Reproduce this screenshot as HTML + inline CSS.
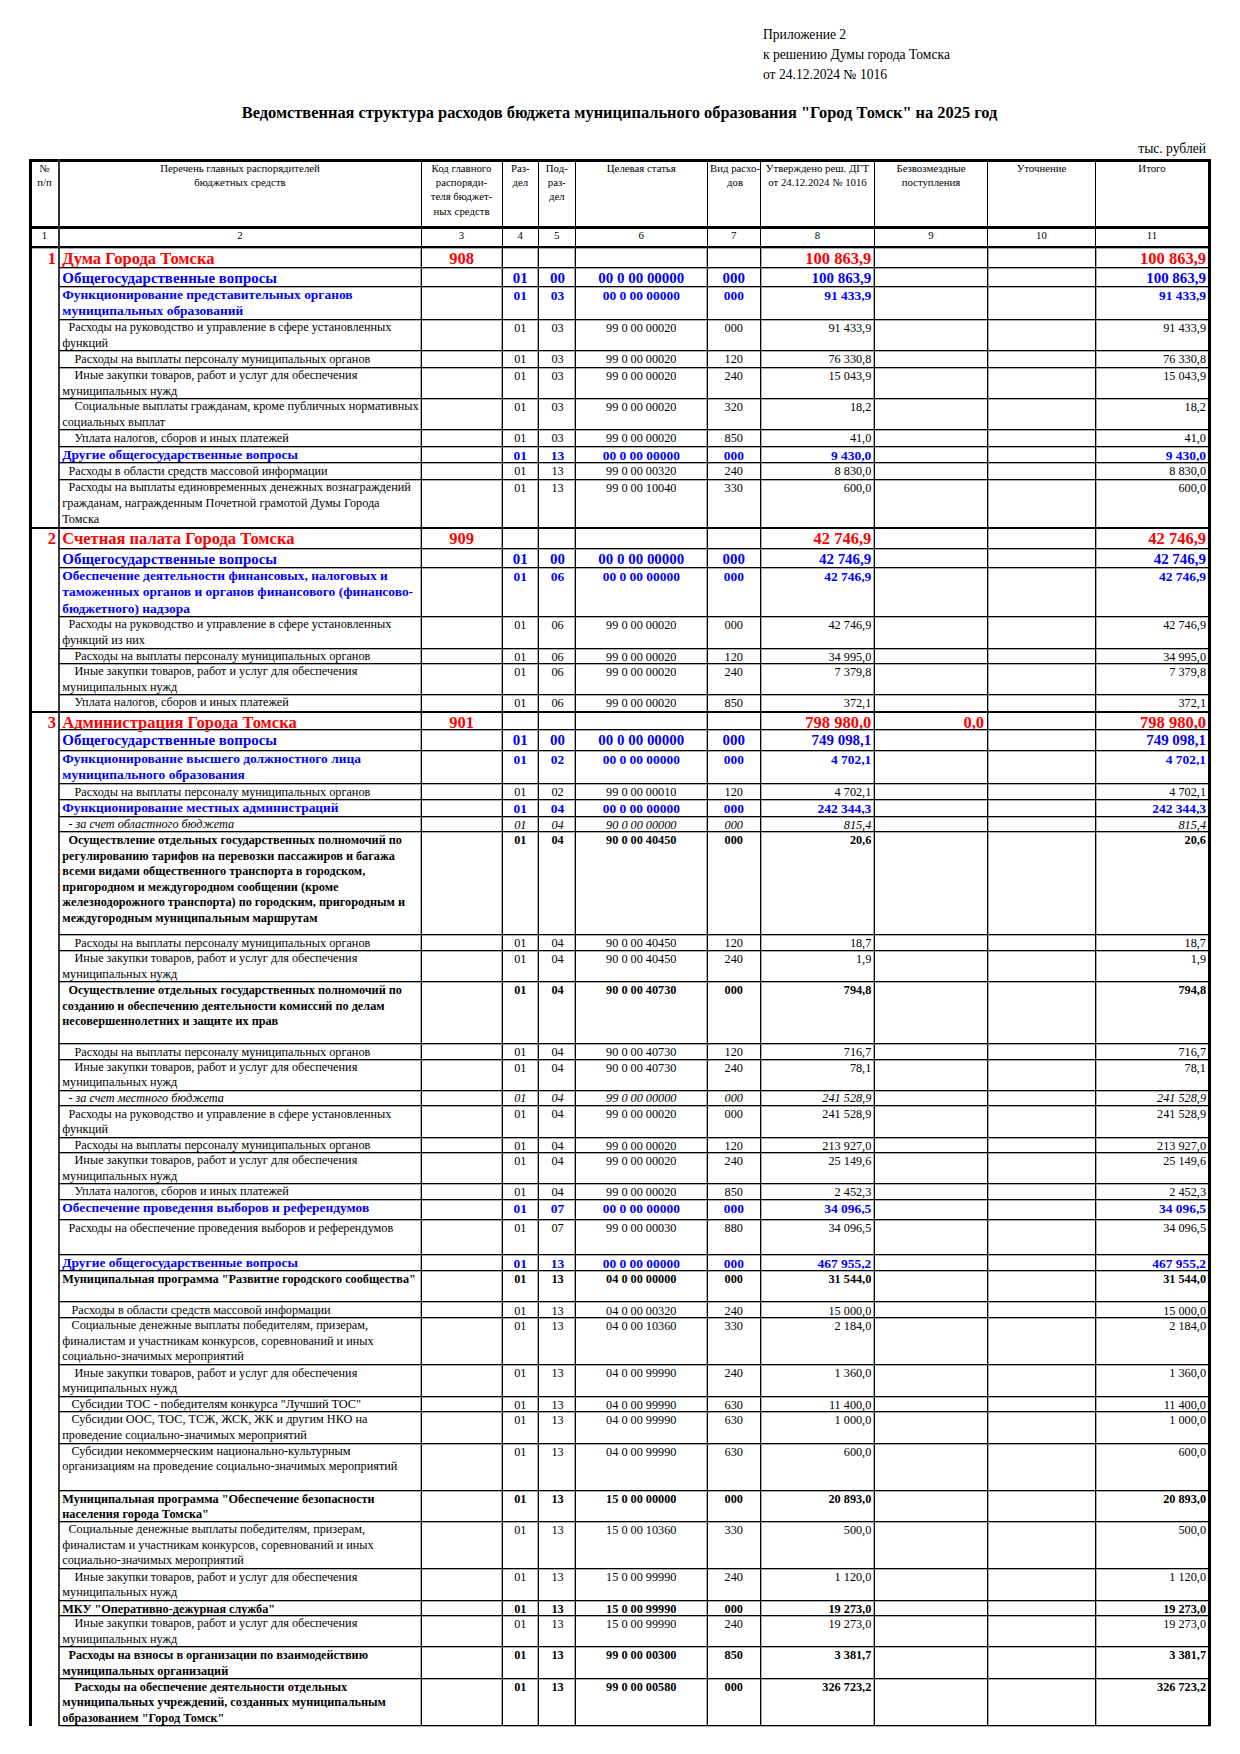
<!DOCTYPE html>
<html lang="ru"><head><meta charset="utf-8"><title>Ведомственная структура расходов бюджета</title>
<style>
html,body{margin:0;padding:0;background:#fff;}
body{width:1240px;height:1754px;position:relative;overflow:hidden;font-family:"Liberation Serif","Times New Roman",serif;color:#000;}
.t{position:absolute;white-space:pre;}
.l{position:absolute;}
.r{font-weight:normal;}
.bd{font-weight:bold;}
.dept{color:#ff0000;font-weight:bold;}
.l1{color:#0000ff;font-weight:bold;}
.l2{color:#0000ff;font-weight:bold;}
.n{font-weight:normal;}
.b{font-weight:bold;}
.i{font-style:italic;}
</style></head><body>
<div class="t r" style="left:763.00px;top:26.11px;font-size:13.6px;line-height:17.0px">Приложение 2</div>
<div class="t r" style="left:763.00px;top:45.71px;font-size:13.6px;line-height:17.0px">к решению Думы города Томска</div>
<div class="t r" style="left:763.00px;top:65.51px;font-size:13.6px;line-height:17.0px">от 24.12.2024 № 1016</div>
<div class="t bd" style="left:119.50px;width:1000px;text-align:center;top:103.02px;font-size:16.4px;line-height:20.5px">Ведомственная структура расходов бюджета муниципального образования "Город Томск" на 2025 год</div>
<div class="t r" style="left:1006.00px;width:200px;text-align:right;top:139.91px;font-size:13.6px;line-height:17.0px">тыс. рублей</div>
<div class="t r" style="left:-55.50px;width:200px;text-align:center;top:161.91px;font-size:10.8px;line-height:13.5px">№</div>
<div class="t r" style="left:-55.50px;width:200px;text-align:center;top:175.91px;font-size:10.8px;line-height:13.5px">п/п</div>
<div class="t r" style="left:140.00px;width:200px;text-align:center;top:161.91px;font-size:10.8px;line-height:13.5px">Перечень главных распорядителей</div>
<div class="t r" style="left:140.00px;width:200px;text-align:center;top:175.91px;font-size:10.8px;line-height:13.5px">бюджетных средств</div>
<div class="t r" style="left:361.50px;width:200px;text-align:center;top:161.91px;font-size:10.8px;line-height:13.5px">Код главного</div>
<div class="t r" style="left:361.50px;width:200px;text-align:center;top:175.91px;font-size:10.8px;line-height:13.5px">распоряди-</div>
<div class="t r" style="left:361.50px;width:200px;text-align:center;top:190.00px;font-size:10.8px;line-height:13.5px">теля бюджет-</div>
<div class="t r" style="left:361.50px;width:200px;text-align:center;top:204.80px;font-size:10.8px;line-height:13.5px">ных средств</div>
<div class="t r" style="left:420.30px;width:200px;text-align:center;top:161.91px;font-size:10.8px;line-height:13.5px">Раз-</div>
<div class="t r" style="left:420.30px;width:200px;text-align:center;top:175.91px;font-size:10.8px;line-height:13.5px">дел</div>
<div class="t r" style="left:456.80px;width:200px;text-align:center;top:161.91px;font-size:10.8px;line-height:13.5px">Под-</div>
<div class="t r" style="left:456.80px;width:200px;text-align:center;top:175.91px;font-size:10.8px;line-height:13.5px">раз-</div>
<div class="t r" style="left:456.80px;width:200px;text-align:center;top:190.00px;font-size:10.8px;line-height:13.5px">дел</div>
<div class="t r" style="left:541.30px;width:200px;text-align:center;top:161.91px;font-size:10.8px;line-height:13.5px">Целевая статья</div>
<div class="t r" style="left:635.00px;width:200px;text-align:center;top:161.91px;font-size:10.8px;line-height:13.5px">Вид расхо-</div>
<div class="t r" style="left:635.00px;width:200px;text-align:center;top:175.91px;font-size:10.8px;line-height:13.5px">дов</div>
<div class="t r" style="left:717.50px;width:200px;text-align:center;top:161.91px;font-size:10.8px;line-height:13.5px">Утверждено реш. ДГТ</div>
<div class="t r" style="left:717.50px;width:200px;text-align:center;top:175.91px;font-size:10.8px;line-height:13.5px">от 24.12.2024 № 1016</div>
<div class="t r" style="left:831.00px;width:200px;text-align:center;top:161.91px;font-size:10.8px;line-height:13.5px">Безвозмездные</div>
<div class="t r" style="left:831.00px;width:200px;text-align:center;top:175.91px;font-size:10.8px;line-height:13.5px">поступления</div>
<div class="t r" style="left:941.50px;width:200px;text-align:center;top:161.91px;font-size:10.8px;line-height:13.5px">Уточнение</div>
<div class="t r" style="left:1052.00px;width:200px;text-align:center;top:161.91px;font-size:10.8px;line-height:13.5px">Итого</div>
<div class="t r" style="left:-5.50px;width:100px;text-align:center;top:229.20px;font-size:10.8px;line-height:13.5px">1</div>
<div class="t r" style="left:190.00px;width:100px;text-align:center;top:229.20px;font-size:10.8px;line-height:13.5px">2</div>
<div class="t r" style="left:411.50px;width:100px;text-align:center;top:229.20px;font-size:10.8px;line-height:13.5px">3</div>
<div class="t r" style="left:470.30px;width:100px;text-align:center;top:229.20px;font-size:10.8px;line-height:13.5px">4</div>
<div class="t r" style="left:506.80px;width:100px;text-align:center;top:229.20px;font-size:10.8px;line-height:13.5px">5</div>
<div class="t r" style="left:591.30px;width:100px;text-align:center;top:229.20px;font-size:10.8px;line-height:13.5px">6</div>
<div class="t r" style="left:683.80px;width:100px;text-align:center;top:229.20px;font-size:10.8px;line-height:13.5px">7</div>
<div class="t r" style="left:767.50px;width:100px;text-align:center;top:229.20px;font-size:10.8px;line-height:13.5px">8</div>
<div class="t r" style="left:881.00px;width:100px;text-align:center;top:229.20px;font-size:10.8px;line-height:13.5px">9</div>
<div class="t r" style="left:991.50px;width:100px;text-align:center;top:229.20px;font-size:10.8px;line-height:13.5px">10</div>
<div class="t r" style="left:1102.00px;width:100px;text-align:center;top:229.20px;font-size:10.8px;line-height:13.5px">11</div>
<div class="l" style="left:29px;top:159px;width:1182px;height:3px;background:#000"></div>
<div class="l" style="left:29px;top:226px;width:1182px;height:3px;background:#000"></div>
<div class="l" style="left:29px;top:246px;width:1182px;height:2px;background:#000"></div>
<div class="l" style="left:29px;top:248px;width:1182px;height:1px;background:#aaa"></div>
<div class="l" style="left:58px;top:159px;width:2px;height:89px;background:#333"></div>
<div class="l" style="left:421px;top:159px;width:1px;height:89px;background:#000"></div>
<div class="l" style="left:502px;top:159px;width:1px;height:89px;background:#000"></div>
<div class="l" style="left:538px;top:159px;width:1px;height:89px;background:#000"></div>
<div class="l" style="left:575px;top:159px;width:1px;height:89px;background:#000"></div>
<div class="l" style="left:707px;top:159px;width:1px;height:89px;background:#000"></div>
<div class="l" style="left:760px;top:159px;width:1px;height:89px;background:#000"></div>
<div class="l" style="left:874px;top:159px;width:1px;height:89px;background:#000"></div>
<div class="l" style="left:987px;top:159px;width:1px;height:89px;background:#000"></div>
<div class="l" style="left:1095px;top:159px;width:1px;height:89px;background:#000"></div>
<div class="t dept" style="left:62.30px;top:248.62px;font-size:16.5px;line-height:20.62px">Дума Города Томска</div>
<div class="t dept" style="left:26.00px;width:30px;text-align:right;top:248.62px;font-size:16.5px;line-height:20.62px">1</div>
<div class="t dept" style="left:421.50px;width:80px;text-align:center;top:248.62px;font-size:16.5px;line-height:20.62px">908</div>
<div class="t dept" style="left:761.30px;width:110px;text-align:right;top:248.62px;font-size:16.5px;line-height:20.62px">100 863,9</div>
<div class="t dept" style="left:1096.00px;width:110px;text-align:right;top:248.62px;font-size:16.5px;line-height:20.62px">100 863,9</div>
<div class="t l1" style="left:62.30px;top:268.50px;font-size:14.96px;line-height:18.7px">Общегосударственные вопросы</div>
<div class="t l1" style="left:500.30px;width:40px;text-align:center;top:268.50px;font-size:14.96px;line-height:18.7px">01</div>
<div class="t l1" style="left:537.50px;width:40px;text-align:center;top:268.50px;font-size:14.96px;line-height:18.7px">00</div>
<div class="t l1" style="left:576.30px;width:130px;text-align:center;top:268.50px;font-size:14.96px;line-height:18.7px">00 0 00 00000</div>
<div class="t l1" style="left:708.80px;width:50px;text-align:center;top:268.50px;font-size:14.96px;line-height:18.7px">000</div>
<div class="t l1" style="left:761.30px;width:110px;text-align:right;top:268.50px;font-size:14.96px;line-height:18.7px">100 863,9</div>
<div class="t l1" style="left:1096.00px;width:110px;text-align:right;top:268.50px;font-size:14.96px;line-height:18.7px">100 863,9</div>
<div class="t l2" style="left:62.30px;top:286.56px;font-size:13.45px;line-height:16.81px">Функционирование представительных органов</div>
<div class="t l2" style="left:62.30px;top:302.96px;font-size:13.45px;line-height:16.81px">муниципальных образований</div>
<div class="t l2" style="left:500.30px;width:40px;text-align:center;top:287.76px;font-size:13.45px;line-height:16.81px">01</div>
<div class="t l2" style="left:537.50px;width:40px;text-align:center;top:287.76px;font-size:13.45px;line-height:16.81px">03</div>
<div class="t l2" style="left:576.30px;width:130px;text-align:center;top:287.76px;font-size:13.45px;line-height:16.81px">00 0 00 00000</div>
<div class="t l2" style="left:708.80px;width:50px;text-align:center;top:287.76px;font-size:13.45px;line-height:16.81px">000</div>
<div class="t l2" style="left:761.30px;width:110px;text-align:right;top:287.76px;font-size:13.45px;line-height:16.81px">91 433,9</div>
<div class="t l2" style="left:1096.00px;width:110px;text-align:right;top:287.76px;font-size:13.45px;line-height:16.81px">91 433,9</div>
<div class="t n" style="left:62.30px;top:320.42px;font-size:12.24px;line-height:15.3px">  Расходы на руководство и управление в сфере установленных</div>
<div class="t n" style="left:62.30px;top:336.02px;font-size:12.24px;line-height:15.3px">функций</div>
<div class="t n" style="left:500.30px;width:40px;text-align:center;top:321.22px;font-size:12.24px;line-height:15.3px">01</div>
<div class="t n" style="left:537.50px;width:40px;text-align:center;top:321.22px;font-size:12.24px;line-height:15.3px">03</div>
<div class="t n" style="left:576.30px;width:130px;text-align:center;top:321.22px;font-size:12.24px;line-height:15.3px">99 0 00 00020</div>
<div class="t n" style="left:708.80px;width:50px;text-align:center;top:321.22px;font-size:12.24px;line-height:15.3px">000</div>
<div class="t n" style="left:761.30px;width:110px;text-align:right;top:321.22px;font-size:12.24px;line-height:15.3px">91 433,9</div>
<div class="t n" style="left:1096.00px;width:110px;text-align:right;top:321.22px;font-size:12.24px;line-height:15.3px">91 433,9</div>
<div class="t n" style="left:62.30px;top:351.52px;font-size:12.24px;line-height:15.3px">    Расходы на выплаты персоналу муниципальных органов</div>
<div class="t n" style="left:500.30px;width:40px;text-align:center;top:352.32px;font-size:12.24px;line-height:15.3px">01</div>
<div class="t n" style="left:537.50px;width:40px;text-align:center;top:352.32px;font-size:12.24px;line-height:15.3px">03</div>
<div class="t n" style="left:576.30px;width:130px;text-align:center;top:352.32px;font-size:12.24px;line-height:15.3px">99 0 00 00020</div>
<div class="t n" style="left:708.80px;width:50px;text-align:center;top:352.32px;font-size:12.24px;line-height:15.3px">120</div>
<div class="t n" style="left:761.30px;width:110px;text-align:right;top:352.32px;font-size:12.24px;line-height:15.3px">76 330,8</div>
<div class="t n" style="left:1096.00px;width:110px;text-align:right;top:352.32px;font-size:12.24px;line-height:15.3px">76 330,8</div>
<div class="t n" style="left:62.30px;top:368.32px;font-size:12.24px;line-height:15.3px">    Иные закупки товаров, работ и услуг для обеспечения</div>
<div class="t n" style="left:62.30px;top:383.92px;font-size:12.24px;line-height:15.3px">муниципальных нужд</div>
<div class="t n" style="left:500.30px;width:40px;text-align:center;top:369.12px;font-size:12.24px;line-height:15.3px">01</div>
<div class="t n" style="left:537.50px;width:40px;text-align:center;top:369.12px;font-size:12.24px;line-height:15.3px">03</div>
<div class="t n" style="left:576.30px;width:130px;text-align:center;top:369.12px;font-size:12.24px;line-height:15.3px">99 0 00 00020</div>
<div class="t n" style="left:708.80px;width:50px;text-align:center;top:369.12px;font-size:12.24px;line-height:15.3px">240</div>
<div class="t n" style="left:761.30px;width:110px;text-align:right;top:369.12px;font-size:12.24px;line-height:15.3px">15 043,9</div>
<div class="t n" style="left:1096.00px;width:110px;text-align:right;top:369.12px;font-size:12.24px;line-height:15.3px">15 043,9</div>
<div class="t n" style="left:62.30px;top:399.42px;font-size:12.24px;line-height:15.3px">    Социальные выплаты гражданам, кроме публичных нормативных</div>
<div class="t n" style="left:62.30px;top:415.02px;font-size:12.24px;line-height:15.3px">социальных выплат</div>
<div class="t n" style="left:500.30px;width:40px;text-align:center;top:400.22px;font-size:12.24px;line-height:15.3px">01</div>
<div class="t n" style="left:537.50px;width:40px;text-align:center;top:400.22px;font-size:12.24px;line-height:15.3px">03</div>
<div class="t n" style="left:576.30px;width:130px;text-align:center;top:400.22px;font-size:12.24px;line-height:15.3px">99 0 00 00020</div>
<div class="t n" style="left:708.80px;width:50px;text-align:center;top:400.22px;font-size:12.24px;line-height:15.3px">320</div>
<div class="t n" style="left:761.30px;width:110px;text-align:right;top:400.22px;font-size:12.24px;line-height:15.3px">18,2</div>
<div class="t n" style="left:1096.00px;width:110px;text-align:right;top:400.22px;font-size:12.24px;line-height:15.3px">18,2</div>
<div class="t n" style="left:62.30px;top:430.52px;font-size:12.24px;line-height:15.3px">    Уплата налогов, сборов и иных платежей</div>
<div class="t n" style="left:500.30px;width:40px;text-align:center;top:431.32px;font-size:12.24px;line-height:15.3px">01</div>
<div class="t n" style="left:537.50px;width:40px;text-align:center;top:431.32px;font-size:12.24px;line-height:15.3px">03</div>
<div class="t n" style="left:576.30px;width:130px;text-align:center;top:431.32px;font-size:12.24px;line-height:15.3px">99 0 00 00020</div>
<div class="t n" style="left:708.80px;width:50px;text-align:center;top:431.32px;font-size:12.24px;line-height:15.3px">850</div>
<div class="t n" style="left:761.30px;width:110px;text-align:right;top:431.32px;font-size:12.24px;line-height:15.3px">41,0</div>
<div class="t n" style="left:1096.00px;width:110px;text-align:right;top:431.32px;font-size:12.24px;line-height:15.3px">41,0</div>
<div class="t l2" style="left:62.30px;top:447.16px;font-size:13.45px;line-height:16.81px">Другие общегосударственные вопросы</div>
<div class="t l2" style="left:500.30px;width:40px;text-align:center;top:448.36px;font-size:13.45px;line-height:16.81px">01</div>
<div class="t l2" style="left:537.50px;width:40px;text-align:center;top:448.36px;font-size:13.45px;line-height:16.81px">13</div>
<div class="t l2" style="left:576.30px;width:130px;text-align:center;top:448.36px;font-size:13.45px;line-height:16.81px">00 0 00 00000</div>
<div class="t l2" style="left:708.80px;width:50px;text-align:center;top:448.36px;font-size:13.45px;line-height:16.81px">000</div>
<div class="t l2" style="left:761.30px;width:110px;text-align:right;top:448.36px;font-size:13.45px;line-height:16.81px">9 430,0</div>
<div class="t l2" style="left:1096.00px;width:110px;text-align:right;top:448.36px;font-size:13.45px;line-height:16.81px">9 430,0</div>
<div class="t n" style="left:62.30px;top:463.52px;font-size:12.24px;line-height:15.3px">  Расходы в области средств массовой информации</div>
<div class="t n" style="left:500.30px;width:40px;text-align:center;top:464.32px;font-size:12.24px;line-height:15.3px">01</div>
<div class="t n" style="left:537.50px;width:40px;text-align:center;top:464.32px;font-size:12.24px;line-height:15.3px">13</div>
<div class="t n" style="left:576.30px;width:130px;text-align:center;top:464.32px;font-size:12.24px;line-height:15.3px">99 0 00 00320</div>
<div class="t n" style="left:708.80px;width:50px;text-align:center;top:464.32px;font-size:12.24px;line-height:15.3px">240</div>
<div class="t n" style="left:761.30px;width:110px;text-align:right;top:464.32px;font-size:12.24px;line-height:15.3px">8 830,0</div>
<div class="t n" style="left:1096.00px;width:110px;text-align:right;top:464.32px;font-size:12.24px;line-height:15.3px">8 830,0</div>
<div class="t n" style="left:62.30px;top:480.32px;font-size:12.24px;line-height:15.3px">  Расходы на выплаты единовременных денежных вознаграждений</div>
<div class="t n" style="left:62.30px;top:495.92px;font-size:12.24px;line-height:15.3px">гражданам, награжденным Почетной грамотой Думы Города</div>
<div class="t n" style="left:62.30px;top:511.52px;font-size:12.24px;line-height:15.3px">Томска</div>
<div class="t n" style="left:500.30px;width:40px;text-align:center;top:481.12px;font-size:12.24px;line-height:15.3px">01</div>
<div class="t n" style="left:537.50px;width:40px;text-align:center;top:481.12px;font-size:12.24px;line-height:15.3px">13</div>
<div class="t n" style="left:576.30px;width:130px;text-align:center;top:481.12px;font-size:12.24px;line-height:15.3px">99 0 00 10040</div>
<div class="t n" style="left:708.80px;width:50px;text-align:center;top:481.12px;font-size:12.24px;line-height:15.3px">330</div>
<div class="t n" style="left:761.30px;width:110px;text-align:right;top:481.12px;font-size:12.24px;line-height:15.3px">600,0</div>
<div class="t n" style="left:1096.00px;width:110px;text-align:right;top:481.12px;font-size:12.24px;line-height:15.3px">600,0</div>
<div class="t dept" style="left:62.30px;top:528.92px;font-size:16.5px;line-height:20.62px">Счетная палата Города Томска</div>
<div class="t dept" style="left:26.00px;width:30px;text-align:right;top:528.92px;font-size:16.5px;line-height:20.62px">2</div>
<div class="t dept" style="left:421.50px;width:80px;text-align:center;top:528.92px;font-size:16.5px;line-height:20.62px">909</div>
<div class="t dept" style="left:761.30px;width:110px;text-align:right;top:528.92px;font-size:16.5px;line-height:20.62px">42 746,9</div>
<div class="t dept" style="left:1096.00px;width:110px;text-align:right;top:528.92px;font-size:16.5px;line-height:20.62px">42 746,9</div>
<div class="t l1" style="left:62.30px;top:549.50px;font-size:14.96px;line-height:18.7px">Общегосударственные вопросы</div>
<div class="t l1" style="left:500.30px;width:40px;text-align:center;top:549.50px;font-size:14.96px;line-height:18.7px">01</div>
<div class="t l1" style="left:537.50px;width:40px;text-align:center;top:549.50px;font-size:14.96px;line-height:18.7px">00</div>
<div class="t l1" style="left:576.30px;width:130px;text-align:center;top:549.50px;font-size:14.96px;line-height:18.7px">00 0 00 00000</div>
<div class="t l1" style="left:708.80px;width:50px;text-align:center;top:549.50px;font-size:14.96px;line-height:18.7px">000</div>
<div class="t l1" style="left:761.30px;width:110px;text-align:right;top:549.50px;font-size:14.96px;line-height:18.7px">42 746,9</div>
<div class="t l1" style="left:1096.00px;width:110px;text-align:right;top:549.50px;font-size:14.96px;line-height:18.7px">42 746,9</div>
<div class="t l2" style="left:62.30px;top:567.76px;font-size:13.45px;line-height:16.81px">Обеспечение деятельности финансовых, налоговых и</div>
<div class="t l2" style="left:62.30px;top:584.16px;font-size:13.45px;line-height:16.81px">таможенных органов и органов финансового (финансово-</div>
<div class="t l2" style="left:62.30px;top:600.56px;font-size:13.45px;line-height:16.81px">бюджетного) надзора</div>
<div class="t l2" style="left:500.30px;width:40px;text-align:center;top:568.96px;font-size:13.45px;line-height:16.81px">01</div>
<div class="t l2" style="left:537.50px;width:40px;text-align:center;top:568.96px;font-size:13.45px;line-height:16.81px">06</div>
<div class="t l2" style="left:576.30px;width:130px;text-align:center;top:568.96px;font-size:13.45px;line-height:16.81px">00 0 00 00000</div>
<div class="t l2" style="left:708.80px;width:50px;text-align:center;top:568.96px;font-size:13.45px;line-height:16.81px">000</div>
<div class="t l2" style="left:761.30px;width:110px;text-align:right;top:568.96px;font-size:13.45px;line-height:16.81px">42 746,9</div>
<div class="t l2" style="left:1096.00px;width:110px;text-align:right;top:568.96px;font-size:13.45px;line-height:16.81px">42 746,9</div>
<div class="t n" style="left:62.30px;top:617.12px;font-size:12.24px;line-height:15.3px">  Расходы на руководство и управление в сфере установленных</div>
<div class="t n" style="left:62.30px;top:632.72px;font-size:12.24px;line-height:15.3px">функций из них</div>
<div class="t n" style="left:500.30px;width:40px;text-align:center;top:617.92px;font-size:12.24px;line-height:15.3px">01</div>
<div class="t n" style="left:537.50px;width:40px;text-align:center;top:617.92px;font-size:12.24px;line-height:15.3px">06</div>
<div class="t n" style="left:576.30px;width:130px;text-align:center;top:617.92px;font-size:12.24px;line-height:15.3px">99 0 00 00020</div>
<div class="t n" style="left:708.80px;width:50px;text-align:center;top:617.92px;font-size:12.24px;line-height:15.3px">000</div>
<div class="t n" style="left:761.30px;width:110px;text-align:right;top:617.92px;font-size:12.24px;line-height:15.3px">42 746,9</div>
<div class="t n" style="left:1096.00px;width:110px;text-align:right;top:617.92px;font-size:12.24px;line-height:15.3px">42 746,9</div>
<div class="t n" style="left:62.30px;top:648.92px;font-size:12.24px;line-height:15.3px">    Расходы на выплаты персоналу муниципальных органов</div>
<div class="t n" style="left:500.30px;width:40px;text-align:center;top:649.72px;font-size:12.24px;line-height:15.3px">01</div>
<div class="t n" style="left:537.50px;width:40px;text-align:center;top:649.72px;font-size:12.24px;line-height:15.3px">06</div>
<div class="t n" style="left:576.30px;width:130px;text-align:center;top:649.72px;font-size:12.24px;line-height:15.3px">99 0 00 00020</div>
<div class="t n" style="left:708.80px;width:50px;text-align:center;top:649.72px;font-size:12.24px;line-height:15.3px">120</div>
<div class="t n" style="left:761.30px;width:110px;text-align:right;top:649.72px;font-size:12.24px;line-height:15.3px">34 995,0</div>
<div class="t n" style="left:1096.00px;width:110px;text-align:right;top:649.72px;font-size:12.24px;line-height:15.3px">34 995,0</div>
<div class="t n" style="left:62.30px;top:664.32px;font-size:12.24px;line-height:15.3px">    Иные закупки товаров, работ и услуг для обеспечения</div>
<div class="t n" style="left:62.30px;top:679.92px;font-size:12.24px;line-height:15.3px">муниципальных нужд</div>
<div class="t n" style="left:500.30px;width:40px;text-align:center;top:665.12px;font-size:12.24px;line-height:15.3px">01</div>
<div class="t n" style="left:537.50px;width:40px;text-align:center;top:665.12px;font-size:12.24px;line-height:15.3px">06</div>
<div class="t n" style="left:576.30px;width:130px;text-align:center;top:665.12px;font-size:12.24px;line-height:15.3px">99 0 00 00020</div>
<div class="t n" style="left:708.80px;width:50px;text-align:center;top:665.12px;font-size:12.24px;line-height:15.3px">240</div>
<div class="t n" style="left:761.30px;width:110px;text-align:right;top:665.12px;font-size:12.24px;line-height:15.3px">7 379,8</div>
<div class="t n" style="left:1096.00px;width:110px;text-align:right;top:665.12px;font-size:12.24px;line-height:15.3px">7 379,8</div>
<div class="t n" style="left:62.30px;top:695.42px;font-size:12.24px;line-height:15.3px">    Уплата налогов, сборов и иных платежей</div>
<div class="t n" style="left:500.30px;width:40px;text-align:center;top:696.22px;font-size:12.24px;line-height:15.3px">01</div>
<div class="t n" style="left:537.50px;width:40px;text-align:center;top:696.22px;font-size:12.24px;line-height:15.3px">06</div>
<div class="t n" style="left:576.30px;width:130px;text-align:center;top:696.22px;font-size:12.24px;line-height:15.3px">99 0 00 00020</div>
<div class="t n" style="left:708.80px;width:50px;text-align:center;top:696.22px;font-size:12.24px;line-height:15.3px">850</div>
<div class="t n" style="left:761.30px;width:110px;text-align:right;top:696.22px;font-size:12.24px;line-height:15.3px">372,1</div>
<div class="t n" style="left:1096.00px;width:110px;text-align:right;top:696.22px;font-size:12.24px;line-height:15.3px">372,1</div>
<div class="t dept" style="left:62.30px;top:712.92px;font-size:16.5px;line-height:20.62px">Администрация Города Томска</div>
<div class="t dept" style="left:26.00px;width:30px;text-align:right;top:712.92px;font-size:16.5px;line-height:20.62px">3</div>
<div class="t dept" style="left:421.50px;width:80px;text-align:center;top:712.92px;font-size:16.5px;line-height:20.62px">901</div>
<div class="t dept" style="left:761.30px;width:110px;text-align:right;top:712.92px;font-size:16.5px;line-height:20.62px">798 980,0</div>
<div class="t dept" style="left:874.00px;width:110px;text-align:right;top:712.92px;font-size:16.5px;line-height:20.62px">0,0</div>
<div class="t dept" style="left:1096.00px;width:110px;text-align:right;top:712.92px;font-size:16.5px;line-height:20.62px">798 980,0</div>
<div class="t l1" style="left:62.30px;top:731.00px;font-size:14.96px;line-height:18.7px">Общегосударственные вопросы</div>
<div class="t l1" style="left:500.30px;width:40px;text-align:center;top:731.00px;font-size:14.96px;line-height:18.7px">01</div>
<div class="t l1" style="left:537.50px;width:40px;text-align:center;top:731.00px;font-size:14.96px;line-height:18.7px">00</div>
<div class="t l1" style="left:576.30px;width:130px;text-align:center;top:731.00px;font-size:14.96px;line-height:18.7px">00 0 00 00000</div>
<div class="t l1" style="left:708.80px;width:50px;text-align:center;top:731.00px;font-size:14.96px;line-height:18.7px">000</div>
<div class="t l1" style="left:761.30px;width:110px;text-align:right;top:731.00px;font-size:14.96px;line-height:18.7px">749 098,1</div>
<div class="t l1" style="left:1096.00px;width:110px;text-align:right;top:731.00px;font-size:14.96px;line-height:18.7px">749 098,1</div>
<div class="t l2" style="left:62.30px;top:751.06px;font-size:13.45px;line-height:16.81px">Функционирование высшего должностного лица</div>
<div class="t l2" style="left:62.30px;top:767.46px;font-size:13.45px;line-height:16.81px">муниципального образования</div>
<div class="t l2" style="left:500.30px;width:40px;text-align:center;top:752.26px;font-size:13.45px;line-height:16.81px">01</div>
<div class="t l2" style="left:537.50px;width:40px;text-align:center;top:752.26px;font-size:13.45px;line-height:16.81px">02</div>
<div class="t l2" style="left:576.30px;width:130px;text-align:center;top:752.26px;font-size:13.45px;line-height:16.81px">00 0 00 00000</div>
<div class="t l2" style="left:708.80px;width:50px;text-align:center;top:752.26px;font-size:13.45px;line-height:16.81px">000</div>
<div class="t l2" style="left:761.30px;width:110px;text-align:right;top:752.26px;font-size:13.45px;line-height:16.81px">4 702,1</div>
<div class="t l2" style="left:1096.00px;width:110px;text-align:right;top:752.26px;font-size:13.45px;line-height:16.81px">4 702,1</div>
<div class="t n" style="left:62.30px;top:784.52px;font-size:12.24px;line-height:15.3px">    Расходы на выплаты персоналу муниципальных органов</div>
<div class="t n" style="left:500.30px;width:40px;text-align:center;top:785.32px;font-size:12.24px;line-height:15.3px">01</div>
<div class="t n" style="left:537.50px;width:40px;text-align:center;top:785.32px;font-size:12.24px;line-height:15.3px">02</div>
<div class="t n" style="left:576.30px;width:130px;text-align:center;top:785.32px;font-size:12.24px;line-height:15.3px">99 0 00 00010</div>
<div class="t n" style="left:708.80px;width:50px;text-align:center;top:785.32px;font-size:12.24px;line-height:15.3px">120</div>
<div class="t n" style="left:761.30px;width:110px;text-align:right;top:785.32px;font-size:12.24px;line-height:15.3px">4 702,1</div>
<div class="t n" style="left:1096.00px;width:110px;text-align:right;top:785.32px;font-size:12.24px;line-height:15.3px">4 702,1</div>
<div class="t l2" style="left:62.30px;top:800.06px;font-size:13.45px;line-height:16.81px">Функционирование местных администраций</div>
<div class="t l2" style="left:500.30px;width:40px;text-align:center;top:801.26px;font-size:13.45px;line-height:16.81px">01</div>
<div class="t l2" style="left:537.50px;width:40px;text-align:center;top:801.26px;font-size:13.45px;line-height:16.81px">04</div>
<div class="t l2" style="left:576.30px;width:130px;text-align:center;top:801.26px;font-size:13.45px;line-height:16.81px">00 0 00 00000</div>
<div class="t l2" style="left:708.80px;width:50px;text-align:center;top:801.26px;font-size:13.45px;line-height:16.81px">000</div>
<div class="t l2" style="left:761.30px;width:110px;text-align:right;top:801.26px;font-size:13.45px;line-height:16.81px">242 344,3</div>
<div class="t l2" style="left:1096.00px;width:110px;text-align:right;top:801.26px;font-size:13.45px;line-height:16.81px">242 344,3</div>
<div class="t i" style="left:62.30px;top:817.22px;font-size:12.24px;line-height:15.3px">  - за счет областного бюджета</div>
<div class="t i" style="left:500.30px;width:40px;text-align:center;top:817.72px;font-size:12.24px;line-height:15.3px">01</div>
<div class="t i" style="left:537.50px;width:40px;text-align:center;top:817.72px;font-size:12.24px;line-height:15.3px">04</div>
<div class="t i" style="left:576.30px;width:130px;text-align:center;top:817.72px;font-size:12.24px;line-height:15.3px">90 0 00 00000</div>
<div class="t i" style="left:708.80px;width:50px;text-align:center;top:817.72px;font-size:12.24px;line-height:15.3px">000</div>
<div class="t i" style="left:761.30px;width:110px;text-align:right;top:817.72px;font-size:12.24px;line-height:15.3px">815,4</div>
<div class="t i" style="left:1096.00px;width:110px;text-align:right;top:817.72px;font-size:12.24px;line-height:15.3px">815,4</div>
<div class="t b" style="left:62.30px;top:833.22px;font-size:12.24px;line-height:15.3px">  Осуществление отдельных государственных полномочий по</div>
<div class="t b" style="left:62.30px;top:848.72px;font-size:12.24px;line-height:15.3px">регулированию тарифов на перевозки пассажиров и багажа</div>
<div class="t b" style="left:62.30px;top:864.22px;font-size:12.24px;line-height:15.3px">всеми видами общественного транспорта в городском,</div>
<div class="t b" style="left:62.30px;top:879.72px;font-size:12.24px;line-height:15.3px">пригородном и междугородном сообщении (кроме</div>
<div class="t b" style="left:62.30px;top:895.22px;font-size:12.24px;line-height:15.3px">железнодорожного транспорта) по городским, пригородным и</div>
<div class="t b" style="left:62.30px;top:910.72px;font-size:12.24px;line-height:15.3px">междугородным муниципальным маршрутам</div>
<div class="t b" style="left:500.30px;width:40px;text-align:center;top:833.22px;font-size:12.24px;line-height:15.3px">01</div>
<div class="t b" style="left:537.50px;width:40px;text-align:center;top:833.22px;font-size:12.24px;line-height:15.3px">04</div>
<div class="t b" style="left:576.30px;width:130px;text-align:center;top:833.22px;font-size:12.24px;line-height:15.3px">90 0 00 40450</div>
<div class="t b" style="left:708.80px;width:50px;text-align:center;top:833.22px;font-size:12.24px;line-height:15.3px">000</div>
<div class="t b" style="left:761.30px;width:110px;text-align:right;top:833.22px;font-size:12.24px;line-height:15.3px">20,6</div>
<div class="t b" style="left:1096.00px;width:110px;text-align:right;top:833.22px;font-size:12.24px;line-height:15.3px">20,6</div>
<div class="t n" style="left:62.30px;top:935.52px;font-size:12.24px;line-height:15.3px">    Расходы на выплаты персоналу муниципальных органов</div>
<div class="t n" style="left:500.30px;width:40px;text-align:center;top:936.32px;font-size:12.24px;line-height:15.3px">01</div>
<div class="t n" style="left:537.50px;width:40px;text-align:center;top:936.32px;font-size:12.24px;line-height:15.3px">04</div>
<div class="t n" style="left:576.30px;width:130px;text-align:center;top:936.32px;font-size:12.24px;line-height:15.3px">90 0 00 40450</div>
<div class="t n" style="left:708.80px;width:50px;text-align:center;top:936.32px;font-size:12.24px;line-height:15.3px">120</div>
<div class="t n" style="left:761.30px;width:110px;text-align:right;top:936.32px;font-size:12.24px;line-height:15.3px">18,7</div>
<div class="t n" style="left:1096.00px;width:110px;text-align:right;top:936.32px;font-size:12.24px;line-height:15.3px">18,7</div>
<div class="t n" style="left:62.30px;top:951.22px;font-size:12.24px;line-height:15.3px">    Иные закупки товаров, работ и услуг для обеспечения</div>
<div class="t n" style="left:62.30px;top:966.82px;font-size:12.24px;line-height:15.3px">муниципальных нужд</div>
<div class="t n" style="left:500.30px;width:40px;text-align:center;top:952.02px;font-size:12.24px;line-height:15.3px">01</div>
<div class="t n" style="left:537.50px;width:40px;text-align:center;top:952.02px;font-size:12.24px;line-height:15.3px">04</div>
<div class="t n" style="left:576.30px;width:130px;text-align:center;top:952.02px;font-size:12.24px;line-height:15.3px">90 0 00 40450</div>
<div class="t n" style="left:708.80px;width:50px;text-align:center;top:952.02px;font-size:12.24px;line-height:15.3px">240</div>
<div class="t n" style="left:761.30px;width:110px;text-align:right;top:952.02px;font-size:12.24px;line-height:15.3px">1,9</div>
<div class="t n" style="left:1096.00px;width:110px;text-align:right;top:952.02px;font-size:12.24px;line-height:15.3px">1,9</div>
<div class="t b" style="left:62.30px;top:983.32px;font-size:12.24px;line-height:15.3px">  Осуществление отдельных государственных полномочий по</div>
<div class="t b" style="left:62.30px;top:998.82px;font-size:12.24px;line-height:15.3px">созданию и обеспечению деятельности комиссий по делам</div>
<div class="t b" style="left:62.30px;top:1014.32px;font-size:12.24px;line-height:15.3px">несовершеннолетних и защите их прав</div>
<div class="t b" style="left:500.30px;width:40px;text-align:center;top:983.32px;font-size:12.24px;line-height:15.3px">01</div>
<div class="t b" style="left:537.50px;width:40px;text-align:center;top:983.32px;font-size:12.24px;line-height:15.3px">04</div>
<div class="t b" style="left:576.30px;width:130px;text-align:center;top:983.32px;font-size:12.24px;line-height:15.3px">90 0 00 40730</div>
<div class="t b" style="left:708.80px;width:50px;text-align:center;top:983.32px;font-size:12.24px;line-height:15.3px">000</div>
<div class="t b" style="left:761.30px;width:110px;text-align:right;top:983.32px;font-size:12.24px;line-height:15.3px">794,8</div>
<div class="t b" style="left:1096.00px;width:110px;text-align:right;top:983.32px;font-size:12.24px;line-height:15.3px">794,8</div>
<div class="t n" style="left:62.30px;top:1044.62px;font-size:12.24px;line-height:15.3px">    Расходы на выплаты персоналу муниципальных органов</div>
<div class="t n" style="left:500.30px;width:40px;text-align:center;top:1045.42px;font-size:12.24px;line-height:15.3px">01</div>
<div class="t n" style="left:537.50px;width:40px;text-align:center;top:1045.42px;font-size:12.24px;line-height:15.3px">04</div>
<div class="t n" style="left:576.30px;width:130px;text-align:center;top:1045.42px;font-size:12.24px;line-height:15.3px">90 0 00 40730</div>
<div class="t n" style="left:708.80px;width:50px;text-align:center;top:1045.42px;font-size:12.24px;line-height:15.3px">120</div>
<div class="t n" style="left:761.30px;width:110px;text-align:right;top:1045.42px;font-size:12.24px;line-height:15.3px">716,7</div>
<div class="t n" style="left:1096.00px;width:110px;text-align:right;top:1045.42px;font-size:12.24px;line-height:15.3px">716,7</div>
<div class="t n" style="left:62.30px;top:1059.82px;font-size:12.24px;line-height:15.3px">    Иные закупки товаров, работ и услуг для обеспечения</div>
<div class="t n" style="left:62.30px;top:1075.42px;font-size:12.24px;line-height:15.3px">муниципальных нужд</div>
<div class="t n" style="left:500.30px;width:40px;text-align:center;top:1060.62px;font-size:12.24px;line-height:15.3px">01</div>
<div class="t n" style="left:537.50px;width:40px;text-align:center;top:1060.62px;font-size:12.24px;line-height:15.3px">04</div>
<div class="t n" style="left:576.30px;width:130px;text-align:center;top:1060.62px;font-size:12.24px;line-height:15.3px">90 0 00 40730</div>
<div class="t n" style="left:708.80px;width:50px;text-align:center;top:1060.62px;font-size:12.24px;line-height:15.3px">240</div>
<div class="t n" style="left:761.30px;width:110px;text-align:right;top:1060.62px;font-size:12.24px;line-height:15.3px">78,1</div>
<div class="t n" style="left:1096.00px;width:110px;text-align:right;top:1060.62px;font-size:12.24px;line-height:15.3px">78,1</div>
<div class="t i" style="left:62.30px;top:1090.62px;font-size:12.24px;line-height:15.3px">  - за счет местного бюджета</div>
<div class="t i" style="left:500.30px;width:40px;text-align:center;top:1091.12px;font-size:12.24px;line-height:15.3px">01</div>
<div class="t i" style="left:537.50px;width:40px;text-align:center;top:1091.12px;font-size:12.24px;line-height:15.3px">04</div>
<div class="t i" style="left:576.30px;width:130px;text-align:center;top:1091.12px;font-size:12.24px;line-height:15.3px">99 0 00 00000</div>
<div class="t i" style="left:708.80px;width:50px;text-align:center;top:1091.12px;font-size:12.24px;line-height:15.3px">000</div>
<div class="t i" style="left:761.30px;width:110px;text-align:right;top:1091.12px;font-size:12.24px;line-height:15.3px">241 528,9</div>
<div class="t i" style="left:1096.00px;width:110px;text-align:right;top:1091.12px;font-size:12.24px;line-height:15.3px">241 528,9</div>
<div class="t n" style="left:62.30px;top:1106.52px;font-size:12.24px;line-height:15.3px">  Расходы на руководство и управление в сфере установленных</div>
<div class="t n" style="left:62.30px;top:1122.12px;font-size:12.24px;line-height:15.3px">функций</div>
<div class="t n" style="left:500.30px;width:40px;text-align:center;top:1107.32px;font-size:12.24px;line-height:15.3px">01</div>
<div class="t n" style="left:537.50px;width:40px;text-align:center;top:1107.32px;font-size:12.24px;line-height:15.3px">04</div>
<div class="t n" style="left:576.30px;width:130px;text-align:center;top:1107.32px;font-size:12.24px;line-height:15.3px">99 0 00 00020</div>
<div class="t n" style="left:708.80px;width:50px;text-align:center;top:1107.32px;font-size:12.24px;line-height:15.3px">000</div>
<div class="t n" style="left:761.30px;width:110px;text-align:right;top:1107.32px;font-size:12.24px;line-height:15.3px">241 528,9</div>
<div class="t n" style="left:1096.00px;width:110px;text-align:right;top:1107.32px;font-size:12.24px;line-height:15.3px">241 528,9</div>
<div class="t n" style="left:62.30px;top:1137.82px;font-size:12.24px;line-height:15.3px">    Расходы на выплаты персоналу муниципальных органов</div>
<div class="t n" style="left:500.30px;width:40px;text-align:center;top:1138.62px;font-size:12.24px;line-height:15.3px">01</div>
<div class="t n" style="left:537.50px;width:40px;text-align:center;top:1138.62px;font-size:12.24px;line-height:15.3px">04</div>
<div class="t n" style="left:576.30px;width:130px;text-align:center;top:1138.62px;font-size:12.24px;line-height:15.3px">99 0 00 00020</div>
<div class="t n" style="left:708.80px;width:50px;text-align:center;top:1138.62px;font-size:12.24px;line-height:15.3px">120</div>
<div class="t n" style="left:761.30px;width:110px;text-align:right;top:1138.62px;font-size:12.24px;line-height:15.3px">213 927,0</div>
<div class="t n" style="left:1096.00px;width:110px;text-align:right;top:1138.62px;font-size:12.24px;line-height:15.3px">213 927,0</div>
<div class="t n" style="left:62.30px;top:1153.02px;font-size:12.24px;line-height:15.3px">    Иные закупки товаров, работ и услуг для обеспечения</div>
<div class="t n" style="left:62.30px;top:1168.62px;font-size:12.24px;line-height:15.3px">муниципальных нужд</div>
<div class="t n" style="left:500.30px;width:40px;text-align:center;top:1153.82px;font-size:12.24px;line-height:15.3px">01</div>
<div class="t n" style="left:537.50px;width:40px;text-align:center;top:1153.82px;font-size:12.24px;line-height:15.3px">04</div>
<div class="t n" style="left:576.30px;width:130px;text-align:center;top:1153.82px;font-size:12.24px;line-height:15.3px">99 0 00 00020</div>
<div class="t n" style="left:708.80px;width:50px;text-align:center;top:1153.82px;font-size:12.24px;line-height:15.3px">240</div>
<div class="t n" style="left:761.30px;width:110px;text-align:right;top:1153.82px;font-size:12.24px;line-height:15.3px">25 149,6</div>
<div class="t n" style="left:1096.00px;width:110px;text-align:right;top:1153.82px;font-size:12.24px;line-height:15.3px">25 149,6</div>
<div class="t n" style="left:62.30px;top:1184.42px;font-size:12.24px;line-height:15.3px">    Уплата налогов, сборов и иных платежей</div>
<div class="t n" style="left:500.30px;width:40px;text-align:center;top:1185.22px;font-size:12.24px;line-height:15.3px">01</div>
<div class="t n" style="left:537.50px;width:40px;text-align:center;top:1185.22px;font-size:12.24px;line-height:15.3px">04</div>
<div class="t n" style="left:576.30px;width:130px;text-align:center;top:1185.22px;font-size:12.24px;line-height:15.3px">99 0 00 00020</div>
<div class="t n" style="left:708.80px;width:50px;text-align:center;top:1185.22px;font-size:12.24px;line-height:15.3px">850</div>
<div class="t n" style="left:761.30px;width:110px;text-align:right;top:1185.22px;font-size:12.24px;line-height:15.3px">2 452,3</div>
<div class="t n" style="left:1096.00px;width:110px;text-align:right;top:1185.22px;font-size:12.24px;line-height:15.3px">2 452,3</div>
<div class="t l2" style="left:62.30px;top:1200.26px;font-size:13.45px;line-height:16.81px">Обеспечение проведения выборов и референдумов</div>
<div class="t l2" style="left:500.30px;width:40px;text-align:center;top:1201.46px;font-size:13.45px;line-height:16.81px">01</div>
<div class="t l2" style="left:537.50px;width:40px;text-align:center;top:1201.46px;font-size:13.45px;line-height:16.81px">07</div>
<div class="t l2" style="left:576.30px;width:130px;text-align:center;top:1201.46px;font-size:13.45px;line-height:16.81px">00 0 00 00000</div>
<div class="t l2" style="left:708.80px;width:50px;text-align:center;top:1201.46px;font-size:13.45px;line-height:16.81px">000</div>
<div class="t l2" style="left:761.30px;width:110px;text-align:right;top:1201.46px;font-size:13.45px;line-height:16.81px">34 096,5</div>
<div class="t l2" style="left:1096.00px;width:110px;text-align:right;top:1201.46px;font-size:13.45px;line-height:16.81px">34 096,5</div>
<div class="t n" style="left:62.30px;top:1220.62px;font-size:12.24px;line-height:15.3px">  Расходы на обеспечение проведения выборов и референдумов</div>
<div class="t n" style="left:500.30px;width:40px;text-align:center;top:1221.42px;font-size:12.24px;line-height:15.3px">01</div>
<div class="t n" style="left:537.50px;width:40px;text-align:center;top:1221.42px;font-size:12.24px;line-height:15.3px">07</div>
<div class="t n" style="left:576.30px;width:130px;text-align:center;top:1221.42px;font-size:12.24px;line-height:15.3px">99 0 00 00030</div>
<div class="t n" style="left:708.80px;width:50px;text-align:center;top:1221.42px;font-size:12.24px;line-height:15.3px">880</div>
<div class="t n" style="left:761.30px;width:110px;text-align:right;top:1221.42px;font-size:12.24px;line-height:15.3px">34 096,5</div>
<div class="t n" style="left:1096.00px;width:110px;text-align:right;top:1221.42px;font-size:12.24px;line-height:15.3px">34 096,5</div>
<div class="t l2" style="left:62.30px;top:1254.66px;font-size:13.45px;line-height:16.81px">Другие общегосударственные вопросы</div>
<div class="t l2" style="left:500.30px;width:40px;text-align:center;top:1255.86px;font-size:13.45px;line-height:16.81px">01</div>
<div class="t l2" style="left:537.50px;width:40px;text-align:center;top:1255.86px;font-size:13.45px;line-height:16.81px">13</div>
<div class="t l2" style="left:576.30px;width:130px;text-align:center;top:1255.86px;font-size:13.45px;line-height:16.81px">00 0 00 00000</div>
<div class="t l2" style="left:708.80px;width:50px;text-align:center;top:1255.86px;font-size:13.45px;line-height:16.81px">000</div>
<div class="t l2" style="left:761.30px;width:110px;text-align:right;top:1255.86px;font-size:13.45px;line-height:16.81px">467 955,2</div>
<div class="t l2" style="left:1096.00px;width:110px;text-align:right;top:1255.86px;font-size:13.45px;line-height:16.81px">467 955,2</div>
<div class="t b" style="left:62.30px;top:1271.82px;font-size:12.24px;line-height:15.3px">Муниципальная программа "Развитие городского сообщества"</div>
<div class="t b" style="left:500.30px;width:40px;text-align:center;top:1271.82px;font-size:12.24px;line-height:15.3px">01</div>
<div class="t b" style="left:537.50px;width:40px;text-align:center;top:1271.82px;font-size:12.24px;line-height:15.3px">13</div>
<div class="t b" style="left:576.30px;width:130px;text-align:center;top:1271.82px;font-size:12.24px;line-height:15.3px">04 0 00 00000</div>
<div class="t b" style="left:708.80px;width:50px;text-align:center;top:1271.82px;font-size:12.24px;line-height:15.3px">000</div>
<div class="t b" style="left:761.30px;width:110px;text-align:right;top:1271.82px;font-size:12.24px;line-height:15.3px">31 544,0</div>
<div class="t b" style="left:1096.00px;width:110px;text-align:right;top:1271.82px;font-size:12.24px;line-height:15.3px">31 544,0</div>
<div class="t n" style="left:62.30px;top:1303.32px;font-size:12.24px;line-height:15.3px">   Расходы в области средств массовой информации</div>
<div class="t n" style="left:500.30px;width:40px;text-align:center;top:1304.12px;font-size:12.24px;line-height:15.3px">01</div>
<div class="t n" style="left:537.50px;width:40px;text-align:center;top:1304.12px;font-size:12.24px;line-height:15.3px">13</div>
<div class="t n" style="left:576.30px;width:130px;text-align:center;top:1304.12px;font-size:12.24px;line-height:15.3px">04 0 00 00320</div>
<div class="t n" style="left:708.80px;width:50px;text-align:center;top:1304.12px;font-size:12.24px;line-height:15.3px">240</div>
<div class="t n" style="left:761.30px;width:110px;text-align:right;top:1304.12px;font-size:12.24px;line-height:15.3px">15 000,0</div>
<div class="t n" style="left:1096.00px;width:110px;text-align:right;top:1304.12px;font-size:12.24px;line-height:15.3px">15 000,0</div>
<div class="t n" style="left:62.30px;top:1318.12px;font-size:12.24px;line-height:15.3px">   Социальные денежные выплаты победителям, призерам,</div>
<div class="t n" style="left:62.30px;top:1333.72px;font-size:12.24px;line-height:15.3px">финалистам и участникам конкурсов, соревнований и иных</div>
<div class="t n" style="left:62.30px;top:1349.32px;font-size:12.24px;line-height:15.3px">социально-значимых мероприятий</div>
<div class="t n" style="left:500.30px;width:40px;text-align:center;top:1318.92px;font-size:12.24px;line-height:15.3px">01</div>
<div class="t n" style="left:537.50px;width:40px;text-align:center;top:1318.92px;font-size:12.24px;line-height:15.3px">13</div>
<div class="t n" style="left:576.30px;width:130px;text-align:center;top:1318.92px;font-size:12.24px;line-height:15.3px">04 0 00 10360</div>
<div class="t n" style="left:708.80px;width:50px;text-align:center;top:1318.92px;font-size:12.24px;line-height:15.3px">330</div>
<div class="t n" style="left:761.30px;width:110px;text-align:right;top:1318.92px;font-size:12.24px;line-height:15.3px">2 184,0</div>
<div class="t n" style="left:1096.00px;width:110px;text-align:right;top:1318.92px;font-size:12.24px;line-height:15.3px">2 184,0</div>
<div class="t n" style="left:62.30px;top:1365.62px;font-size:12.24px;line-height:15.3px">    Иные закупки товаров, работ и услуг для обеспечения</div>
<div class="t n" style="left:62.30px;top:1381.22px;font-size:12.24px;line-height:15.3px">муниципальных нужд</div>
<div class="t n" style="left:500.30px;width:40px;text-align:center;top:1366.42px;font-size:12.24px;line-height:15.3px">01</div>
<div class="t n" style="left:537.50px;width:40px;text-align:center;top:1366.42px;font-size:12.24px;line-height:15.3px">13</div>
<div class="t n" style="left:576.30px;width:130px;text-align:center;top:1366.42px;font-size:12.24px;line-height:15.3px">04 0 00 99990</div>
<div class="t n" style="left:708.80px;width:50px;text-align:center;top:1366.42px;font-size:12.24px;line-height:15.3px">240</div>
<div class="t n" style="left:761.30px;width:110px;text-align:right;top:1366.42px;font-size:12.24px;line-height:15.3px">1 360,0</div>
<div class="t n" style="left:1096.00px;width:110px;text-align:right;top:1366.42px;font-size:12.24px;line-height:15.3px">1 360,0</div>
<div class="t n" style="left:62.30px;top:1396.72px;font-size:12.24px;line-height:15.3px">   Субсидии ТОС - победителям конкурса "Лучший ТОС"</div>
<div class="t n" style="left:500.30px;width:40px;text-align:center;top:1397.52px;font-size:12.24px;line-height:15.3px">01</div>
<div class="t n" style="left:537.50px;width:40px;text-align:center;top:1397.52px;font-size:12.24px;line-height:15.3px">13</div>
<div class="t n" style="left:576.30px;width:130px;text-align:center;top:1397.52px;font-size:12.24px;line-height:15.3px">04 0 00 99990</div>
<div class="t n" style="left:708.80px;width:50px;text-align:center;top:1397.52px;font-size:12.24px;line-height:15.3px">630</div>
<div class="t n" style="left:761.30px;width:110px;text-align:right;top:1397.52px;font-size:12.24px;line-height:15.3px">11 400,0</div>
<div class="t n" style="left:1096.00px;width:110px;text-align:right;top:1397.52px;font-size:12.24px;line-height:15.3px">11 400,0</div>
<div class="t n" style="left:62.30px;top:1412.12px;font-size:12.24px;line-height:15.3px">   Субсидии ООС, ТОС, ТСЖ, ЖСК, ЖК и другим НКО на</div>
<div class="t n" style="left:62.30px;top:1427.72px;font-size:12.24px;line-height:15.3px">проведение социально-значимых мероприятий</div>
<div class="t n" style="left:500.30px;width:40px;text-align:center;top:1412.92px;font-size:12.24px;line-height:15.3px">01</div>
<div class="t n" style="left:537.50px;width:40px;text-align:center;top:1412.92px;font-size:12.24px;line-height:15.3px">13</div>
<div class="t n" style="left:576.30px;width:130px;text-align:center;top:1412.92px;font-size:12.24px;line-height:15.3px">04 0 00 99990</div>
<div class="t n" style="left:708.80px;width:50px;text-align:center;top:1412.92px;font-size:12.24px;line-height:15.3px">630</div>
<div class="t n" style="left:761.30px;width:110px;text-align:right;top:1412.92px;font-size:12.24px;line-height:15.3px">1 000,0</div>
<div class="t n" style="left:1096.00px;width:110px;text-align:right;top:1412.92px;font-size:12.24px;line-height:15.3px">1 000,0</div>
<div class="t n" style="left:62.30px;top:1443.72px;font-size:12.24px;line-height:15.3px">   Субсидии некоммерческим национально-культурным</div>
<div class="t n" style="left:62.30px;top:1459.32px;font-size:12.24px;line-height:15.3px">организациям на проведение социально-значимых мероприятий</div>
<div class="t n" style="left:500.30px;width:40px;text-align:center;top:1444.52px;font-size:12.24px;line-height:15.3px">01</div>
<div class="t n" style="left:537.50px;width:40px;text-align:center;top:1444.52px;font-size:12.24px;line-height:15.3px">13</div>
<div class="t n" style="left:576.30px;width:130px;text-align:center;top:1444.52px;font-size:12.24px;line-height:15.3px">04 0 00 99990</div>
<div class="t n" style="left:708.80px;width:50px;text-align:center;top:1444.52px;font-size:12.24px;line-height:15.3px">630</div>
<div class="t n" style="left:761.30px;width:110px;text-align:right;top:1444.52px;font-size:12.24px;line-height:15.3px">600,0</div>
<div class="t n" style="left:1096.00px;width:110px;text-align:right;top:1444.52px;font-size:12.24px;line-height:15.3px">600,0</div>
<div class="t b" style="left:62.30px;top:1491.72px;font-size:12.24px;line-height:15.3px">Муниципальная программа "Обеспечение безопасности</div>
<div class="t b" style="left:62.30px;top:1507.22px;font-size:12.24px;line-height:15.3px">населения города Томска"</div>
<div class="t b" style="left:500.30px;width:40px;text-align:center;top:1491.72px;font-size:12.24px;line-height:15.3px">01</div>
<div class="t b" style="left:537.50px;width:40px;text-align:center;top:1491.72px;font-size:12.24px;line-height:15.3px">13</div>
<div class="t b" style="left:576.30px;width:130px;text-align:center;top:1491.72px;font-size:12.24px;line-height:15.3px">15 0 00 00000</div>
<div class="t b" style="left:708.80px;width:50px;text-align:center;top:1491.72px;font-size:12.24px;line-height:15.3px">000</div>
<div class="t b" style="left:761.30px;width:110px;text-align:right;top:1491.72px;font-size:12.24px;line-height:15.3px">20 893,0</div>
<div class="t b" style="left:1096.00px;width:110px;text-align:right;top:1491.72px;font-size:12.24px;line-height:15.3px">20 893,0</div>
<div class="t n" style="left:62.30px;top:1522.22px;font-size:12.24px;line-height:15.3px">  Социальные денежные выплаты победителям, призерам,</div>
<div class="t n" style="left:62.30px;top:1537.82px;font-size:12.24px;line-height:15.3px">финалистам и участникам конкурсов, соревнований и иных</div>
<div class="t n" style="left:62.30px;top:1553.42px;font-size:12.24px;line-height:15.3px">социально-значимых мероприятий</div>
<div class="t n" style="left:500.30px;width:40px;text-align:center;top:1523.02px;font-size:12.24px;line-height:15.3px">01</div>
<div class="t n" style="left:537.50px;width:40px;text-align:center;top:1523.02px;font-size:12.24px;line-height:15.3px">13</div>
<div class="t n" style="left:576.30px;width:130px;text-align:center;top:1523.02px;font-size:12.24px;line-height:15.3px">15 0 00 10360</div>
<div class="t n" style="left:708.80px;width:50px;text-align:center;top:1523.02px;font-size:12.24px;line-height:15.3px">330</div>
<div class="t n" style="left:761.30px;width:110px;text-align:right;top:1523.02px;font-size:12.24px;line-height:15.3px">500,0</div>
<div class="t n" style="left:1096.00px;width:110px;text-align:right;top:1523.02px;font-size:12.24px;line-height:15.3px">500,0</div>
<div class="t n" style="left:62.30px;top:1569.52px;font-size:12.24px;line-height:15.3px">    Иные закупки товаров, работ и услуг для обеспечения</div>
<div class="t n" style="left:62.30px;top:1585.12px;font-size:12.24px;line-height:15.3px">муниципальных нужд</div>
<div class="t n" style="left:500.30px;width:40px;text-align:center;top:1570.32px;font-size:12.24px;line-height:15.3px">01</div>
<div class="t n" style="left:537.50px;width:40px;text-align:center;top:1570.32px;font-size:12.24px;line-height:15.3px">13</div>
<div class="t n" style="left:576.30px;width:130px;text-align:center;top:1570.32px;font-size:12.24px;line-height:15.3px">15 0 00 99990</div>
<div class="t n" style="left:708.80px;width:50px;text-align:center;top:1570.32px;font-size:12.24px;line-height:15.3px">240</div>
<div class="t n" style="left:761.30px;width:110px;text-align:right;top:1570.32px;font-size:12.24px;line-height:15.3px">1 120,0</div>
<div class="t n" style="left:1096.00px;width:110px;text-align:right;top:1570.32px;font-size:12.24px;line-height:15.3px">1 120,0</div>
<div class="t b" style="left:62.30px;top:1601.62px;font-size:12.24px;line-height:15.3px">МКУ "Оперативно-дежурная служба"</div>
<div class="t b" style="left:500.30px;width:40px;text-align:center;top:1601.62px;font-size:12.24px;line-height:15.3px">01</div>
<div class="t b" style="left:537.50px;width:40px;text-align:center;top:1601.62px;font-size:12.24px;line-height:15.3px">13</div>
<div class="t b" style="left:576.30px;width:130px;text-align:center;top:1601.62px;font-size:12.24px;line-height:15.3px">15 0 00 99990</div>
<div class="t b" style="left:708.80px;width:50px;text-align:center;top:1601.62px;font-size:12.24px;line-height:15.3px">000</div>
<div class="t b" style="left:761.30px;width:110px;text-align:right;top:1601.62px;font-size:12.24px;line-height:15.3px">19 273,0</div>
<div class="t b" style="left:1096.00px;width:110px;text-align:right;top:1601.62px;font-size:12.24px;line-height:15.3px">19 273,0</div>
<div class="t n" style="left:62.30px;top:1616.02px;font-size:12.24px;line-height:15.3px">    Иные закупки товаров, работ и услуг для обеспечения</div>
<div class="t n" style="left:62.30px;top:1631.62px;font-size:12.24px;line-height:15.3px">муниципальных нужд</div>
<div class="t n" style="left:500.30px;width:40px;text-align:center;top:1616.82px;font-size:12.24px;line-height:15.3px">01</div>
<div class="t n" style="left:537.50px;width:40px;text-align:center;top:1616.82px;font-size:12.24px;line-height:15.3px">13</div>
<div class="t n" style="left:576.30px;width:130px;text-align:center;top:1616.82px;font-size:12.24px;line-height:15.3px">15 0 00 99990</div>
<div class="t n" style="left:708.80px;width:50px;text-align:center;top:1616.82px;font-size:12.24px;line-height:15.3px">240</div>
<div class="t n" style="left:761.30px;width:110px;text-align:right;top:1616.82px;font-size:12.24px;line-height:15.3px">19 273,0</div>
<div class="t n" style="left:1096.00px;width:110px;text-align:right;top:1616.82px;font-size:12.24px;line-height:15.3px">19 273,0</div>
<div class="t b" style="left:62.30px;top:1648.12px;font-size:12.24px;line-height:15.3px">  Расходы на взносы в организации по взаимодействию</div>
<div class="t b" style="left:62.30px;top:1663.62px;font-size:12.24px;line-height:15.3px">муниципальных организаций</div>
<div class="t b" style="left:500.30px;width:40px;text-align:center;top:1648.12px;font-size:12.24px;line-height:15.3px">01</div>
<div class="t b" style="left:537.50px;width:40px;text-align:center;top:1648.12px;font-size:12.24px;line-height:15.3px">13</div>
<div class="t b" style="left:576.30px;width:130px;text-align:center;top:1648.12px;font-size:12.24px;line-height:15.3px">99 0 00 00300</div>
<div class="t b" style="left:708.80px;width:50px;text-align:center;top:1648.12px;font-size:12.24px;line-height:15.3px">850</div>
<div class="t b" style="left:761.30px;width:110px;text-align:right;top:1648.12px;font-size:12.24px;line-height:15.3px">3 381,7</div>
<div class="t b" style="left:1096.00px;width:110px;text-align:right;top:1648.12px;font-size:12.24px;line-height:15.3px">3 381,7</div>
<div class="t b" style="left:62.30px;top:1679.82px;font-size:12.24px;line-height:15.3px">    Расходы на обеспечение деятельности отдельных</div>
<div class="t b" style="left:62.30px;top:1695.32px;font-size:12.24px;line-height:15.3px">муниципальных учреждений, созданных муниципальным</div>
<div class="t b" style="left:62.30px;top:1710.82px;font-size:12.24px;line-height:15.3px">образованием "Город Томск"</div>
<div class="t b" style="left:500.30px;width:40px;text-align:center;top:1679.82px;font-size:12.24px;line-height:15.3px">01</div>
<div class="t b" style="left:537.50px;width:40px;text-align:center;top:1679.82px;font-size:12.24px;line-height:15.3px">13</div>
<div class="t b" style="left:576.30px;width:130px;text-align:center;top:1679.82px;font-size:12.24px;line-height:15.3px">99 0 00 00580</div>
<div class="t b" style="left:708.80px;width:50px;text-align:center;top:1679.82px;font-size:12.24px;line-height:15.3px">000</div>
<div class="t b" style="left:761.30px;width:110px;text-align:right;top:1679.82px;font-size:12.24px;line-height:15.3px">326 723,2</div>
<div class="t b" style="left:1096.00px;width:110px;text-align:right;top:1679.82px;font-size:12.24px;line-height:15.3px">326 723,2</div>
<div class="l" style="left:420px;top:248px;width:1px;height:1478px;background:#aaa"></div>
<div class="l" style="left:501px;top:248px;width:1px;height:1478px;background:#aaa"></div>
<div class="l" style="left:537px;top:248px;width:1px;height:1478px;background:#aaa"></div>
<div class="l" style="left:574px;top:248px;width:1px;height:1478px;background:#aaa"></div>
<div class="l" style="left:706px;top:248px;width:1px;height:1478px;background:#aaa"></div>
<div class="l" style="left:761px;top:248px;width:1px;height:1478px;background:#aaa"></div>
<div class="l" style="left:873px;top:248px;width:1px;height:1478px;background:#aaa"></div>
<div class="l" style="left:988px;top:248px;width:1px;height:1478px;background:#aaa"></div>
<div class="l" style="left:1096px;top:248px;width:1px;height:1478px;background:#aaa"></div>
<div class="l" style="left:60px;top:268px;width:1148px;height:1px;background:#aaa"></div>
<div class="l" style="left:60px;top:287px;width:1148px;height:1px;background:#aaa"></div>
<div class="l" style="left:60px;top:320px;width:1148px;height:1px;background:#aaa"></div>
<div class="l" style="left:60px;top:351px;width:1148px;height:1px;background:#aaa"></div>
<div class="l" style="left:60px;top:368px;width:1148px;height:1px;background:#aaa"></div>
<div class="l" style="left:60px;top:399px;width:1148px;height:1px;background:#aaa"></div>
<div class="l" style="left:60px;top:430px;width:1148px;height:1px;background:#aaa"></div>
<div class="l" style="left:60px;top:447px;width:1148px;height:1px;background:#aaa"></div>
<div class="l" style="left:60px;top:463px;width:1148px;height:1px;background:#aaa"></div>
<div class="l" style="left:60px;top:480px;width:1148px;height:1px;background:#aaa"></div>
<div class="l" style="left:60px;top:549px;width:1148px;height:1px;background:#aaa"></div>
<div class="l" style="left:60px;top:568px;width:1148px;height:1px;background:#aaa"></div>
<div class="l" style="left:60px;top:617px;width:1148px;height:1px;background:#aaa"></div>
<div class="l" style="left:60px;top:649px;width:1148px;height:1px;background:#aaa"></div>
<div class="l" style="left:60px;top:664px;width:1148px;height:1px;background:#aaa"></div>
<div class="l" style="left:60px;top:695px;width:1148px;height:1px;background:#aaa"></div>
<div class="l" style="left:60px;top:730px;width:1148px;height:1px;background:#aaa"></div>
<div class="l" style="left:60px;top:751px;width:1148px;height:1px;background:#aaa"></div>
<div class="l" style="left:60px;top:784px;width:1148px;height:1px;background:#aaa"></div>
<div class="l" style="left:60px;top:800px;width:1148px;height:1px;background:#aaa"></div>
<div class="l" style="left:60px;top:817px;width:1148px;height:1px;background:#aaa"></div>
<div class="l" style="left:60px;top:832px;width:1148px;height:1px;background:#aaa"></div>
<div class="l" style="left:60px;top:935px;width:1148px;height:1px;background:#aaa"></div>
<div class="l" style="left:60px;top:951px;width:1148px;height:1px;background:#aaa"></div>
<div class="l" style="left:60px;top:982px;width:1148px;height:1px;background:#aaa"></div>
<div class="l" style="left:60px;top:1044px;width:1148px;height:1px;background:#aaa"></div>
<div class="l" style="left:60px;top:1060px;width:1148px;height:1px;background:#aaa"></div>
<div class="l" style="left:60px;top:1091px;width:1148px;height:1px;background:#aaa"></div>
<div class="l" style="left:60px;top:1106px;width:1148px;height:1px;background:#aaa"></div>
<div class="l" style="left:60px;top:1138px;width:1148px;height:1px;background:#aaa"></div>
<div class="l" style="left:60px;top:1153px;width:1148px;height:1px;background:#aaa"></div>
<div class="l" style="left:60px;top:1184px;width:1148px;height:1px;background:#aaa"></div>
<div class="l" style="left:60px;top:1200px;width:1148px;height:1px;background:#aaa"></div>
<div class="l" style="left:60px;top:1220px;width:1148px;height:1px;background:#aaa"></div>
<div class="l" style="left:60px;top:1255px;width:1148px;height:1px;background:#aaa"></div>
<div class="l" style="left:60px;top:1271px;width:1148px;height:1px;background:#aaa"></div>
<div class="l" style="left:60px;top:1302px;width:1148px;height:1px;background:#aaa"></div>
<div class="l" style="left:60px;top:1318px;width:1148px;height:1px;background:#aaa"></div>
<div class="l" style="left:60px;top:1365px;width:1148px;height:1px;background:#aaa"></div>
<div class="l" style="left:60px;top:1397px;width:1148px;height:1px;background:#aaa"></div>
<div class="l" style="left:60px;top:1412px;width:1148px;height:1px;background:#aaa"></div>
<div class="l" style="left:60px;top:1444px;width:1148px;height:1px;background:#aaa"></div>
<div class="l" style="left:60px;top:1491px;width:1148px;height:1px;background:#aaa"></div>
<div class="l" style="left:60px;top:1522px;width:1148px;height:1px;background:#aaa"></div>
<div class="l" style="left:60px;top:1569px;width:1148px;height:1px;background:#aaa"></div>
<div class="l" style="left:60px;top:1601px;width:1148px;height:1px;background:#aaa"></div>
<div class="l" style="left:60px;top:1616px;width:1148px;height:1px;background:#aaa"></div>
<div class="l" style="left:60px;top:1647px;width:1148px;height:1px;background:#aaa"></div>
<div class="l" style="left:60px;top:1679px;width:1148px;height:1px;background:#aaa"></div>
<div class="l" style="left:60px;top:1726px;width:1151px;height:1px;background:#aaa"></div>
<div class="l" style="left:421px;top:248px;width:1px;height:1478px;background:#000"></div>
<div class="l" style="left:502px;top:248px;width:1px;height:1478px;background:#000"></div>
<div class="l" style="left:538px;top:248px;width:1px;height:1478px;background:#000"></div>
<div class="l" style="left:575px;top:248px;width:1px;height:1478px;background:#000"></div>
<div class="l" style="left:707px;top:248px;width:1px;height:1478px;background:#000"></div>
<div class="l" style="left:760px;top:248px;width:1px;height:1478px;background:#000"></div>
<div class="l" style="left:874px;top:248px;width:1px;height:1478px;background:#000"></div>
<div class="l" style="left:987px;top:248px;width:1px;height:1478px;background:#000"></div>
<div class="l" style="left:1095px;top:248px;width:1px;height:1478px;background:#000"></div>
<div class="l" style="left:58px;top:248px;width:2px;height:1478px;background:#3a3a3a"></div>
<div class="l" style="left:59px;top:267px;width:1149px;height:1px;background:#000"></div>
<div class="l" style="left:59px;top:286px;width:1149px;height:1px;background:#000"></div>
<div class="l" style="left:59px;top:319px;width:1149px;height:1px;background:#000"></div>
<div class="l" style="left:59px;top:350px;width:1149px;height:1px;background:#000"></div>
<div class="l" style="left:59px;top:367px;width:1149px;height:1px;background:#000"></div>
<div class="l" style="left:59px;top:398px;width:1149px;height:1px;background:#000"></div>
<div class="l" style="left:59px;top:429px;width:1149px;height:1px;background:#000"></div>
<div class="l" style="left:59px;top:446px;width:1149px;height:1px;background:#000"></div>
<div class="l" style="left:59px;top:462px;width:1149px;height:1px;background:#000"></div>
<div class="l" style="left:59px;top:479px;width:1149px;height:1px;background:#000"></div>
<div class="l" style="left:59px;top:548px;width:1149px;height:1px;background:#000"></div>
<div class="l" style="left:59px;top:567px;width:1149px;height:1px;background:#000"></div>
<div class="l" style="left:59px;top:616px;width:1149px;height:1px;background:#000"></div>
<div class="l" style="left:59px;top:648px;width:1149px;height:1px;background:#000"></div>
<div class="l" style="left:59px;top:663px;width:1149px;height:1px;background:#000"></div>
<div class="l" style="left:59px;top:694px;width:1149px;height:1px;background:#000"></div>
<div class="l" style="left:59px;top:729px;width:1149px;height:1px;background:#000"></div>
<div class="l" style="left:59px;top:750px;width:1149px;height:1px;background:#000"></div>
<div class="l" style="left:59px;top:783px;width:1149px;height:1px;background:#000"></div>
<div class="l" style="left:59px;top:799px;width:1149px;height:1px;background:#000"></div>
<div class="l" style="left:59px;top:816px;width:1149px;height:1px;background:#000"></div>
<div class="l" style="left:59px;top:831px;width:1149px;height:1px;background:#000"></div>
<div class="l" style="left:59px;top:934px;width:1149px;height:1px;background:#000"></div>
<div class="l" style="left:59px;top:950px;width:1149px;height:1px;background:#000"></div>
<div class="l" style="left:59px;top:981px;width:1149px;height:1px;background:#000"></div>
<div class="l" style="left:59px;top:1043px;width:1149px;height:1px;background:#000"></div>
<div class="l" style="left:59px;top:1059px;width:1149px;height:1px;background:#000"></div>
<div class="l" style="left:59px;top:1090px;width:1149px;height:1px;background:#000"></div>
<div class="l" style="left:59px;top:1105px;width:1149px;height:1px;background:#000"></div>
<div class="l" style="left:59px;top:1137px;width:1149px;height:1px;background:#000"></div>
<div class="l" style="left:59px;top:1152px;width:1149px;height:1px;background:#000"></div>
<div class="l" style="left:59px;top:1183px;width:1149px;height:1px;background:#000"></div>
<div class="l" style="left:59px;top:1199px;width:1149px;height:1px;background:#000"></div>
<div class="l" style="left:59px;top:1219px;width:1149px;height:1px;background:#000"></div>
<div class="l" style="left:59px;top:1254px;width:1149px;height:1px;background:#000"></div>
<div class="l" style="left:59px;top:1270px;width:1149px;height:1px;background:#000"></div>
<div class="l" style="left:59px;top:1301px;width:1149px;height:1px;background:#000"></div>
<div class="l" style="left:59px;top:1317px;width:1149px;height:1px;background:#000"></div>
<div class="l" style="left:59px;top:1364px;width:1149px;height:1px;background:#000"></div>
<div class="l" style="left:59px;top:1396px;width:1149px;height:1px;background:#000"></div>
<div class="l" style="left:59px;top:1411px;width:1149px;height:1px;background:#000"></div>
<div class="l" style="left:59px;top:1443px;width:1149px;height:1px;background:#000"></div>
<div class="l" style="left:59px;top:1490px;width:1149px;height:1px;background:#000"></div>
<div class="l" style="left:59px;top:1521px;width:1149px;height:1px;background:#000"></div>
<div class="l" style="left:59px;top:1568px;width:1149px;height:1px;background:#000"></div>
<div class="l" style="left:59px;top:1600px;width:1149px;height:1px;background:#000"></div>
<div class="l" style="left:59px;top:1615px;width:1149px;height:1px;background:#000"></div>
<div class="l" style="left:59px;top:1646px;width:1149px;height:1px;background:#000"></div>
<div class="l" style="left:59px;top:1678px;width:1149px;height:1px;background:#000"></div>
<div class="l" style="left:59px;top:1725px;width:1152px;height:1px;background:#000"></div>
<div class="l" style="left:29px;top:527px;width:1182px;height:2px;background:#000"></div>
<div class="l" style="left:29px;top:711px;width:1182px;height:2px;background:#000"></div>
<div class="l" style="left:29px;top:159px;width:3px;height:1567px;background:#000"></div>
<div class="l" style="left:1208px;top:159px;width:3px;height:1567px;background:#000"></div>
</body></html>
